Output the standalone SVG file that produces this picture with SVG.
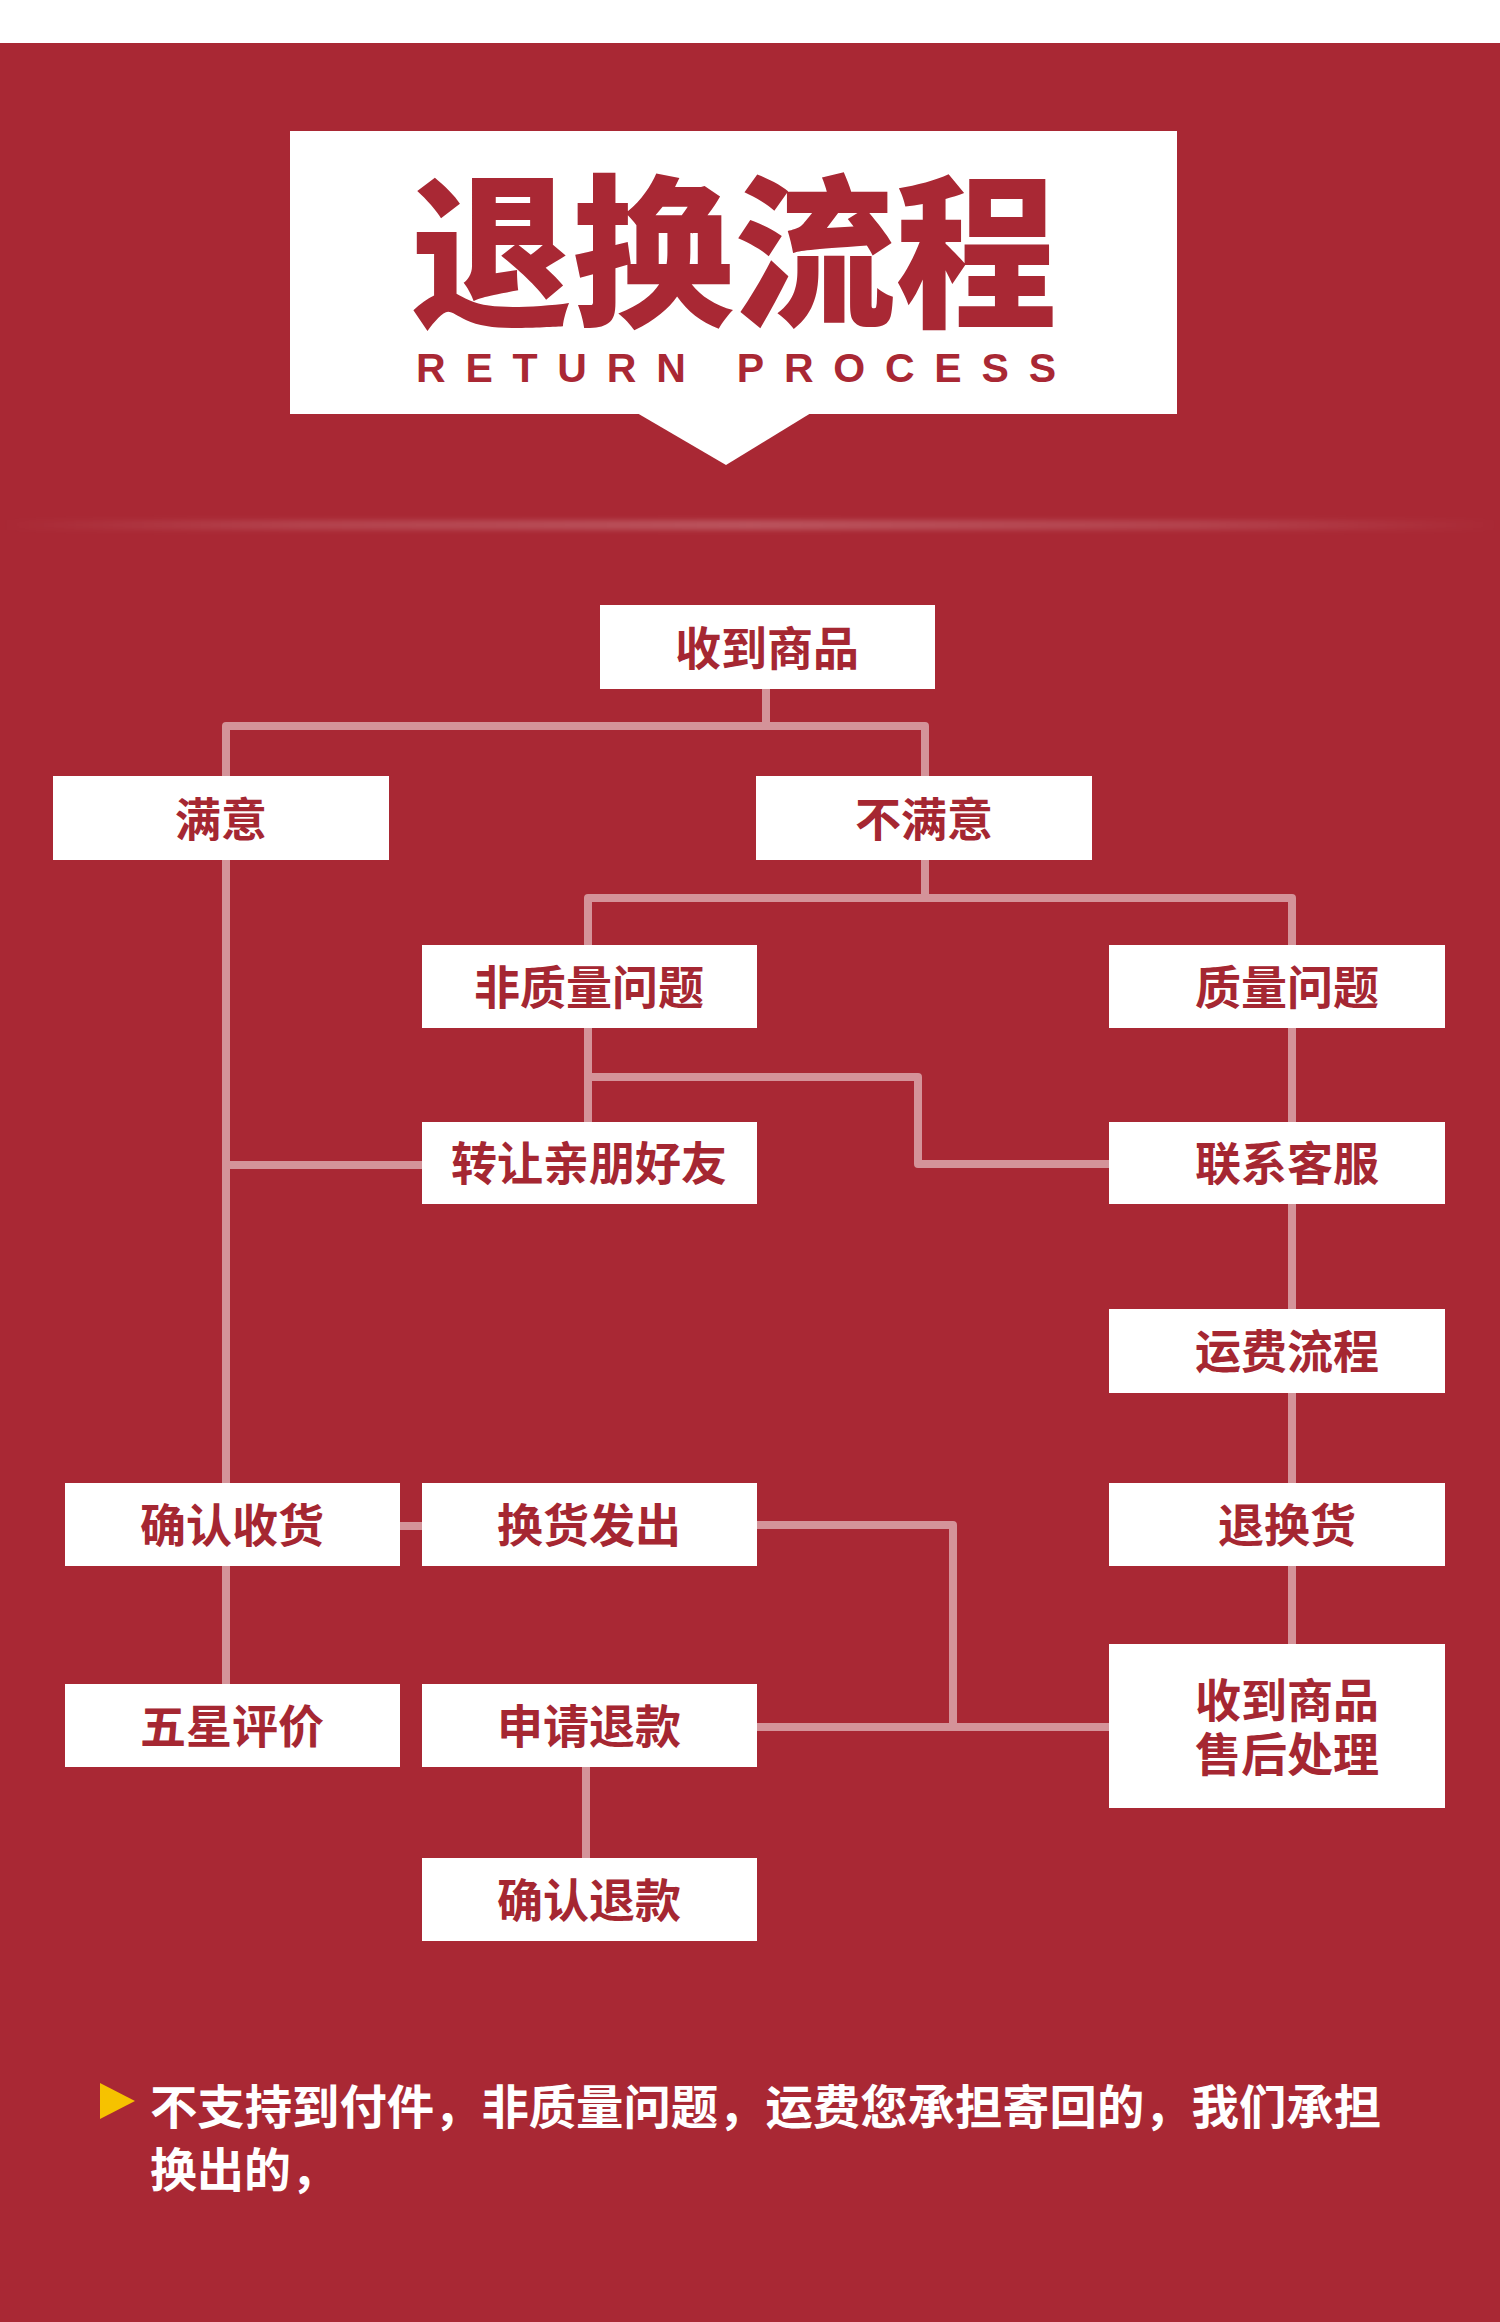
<svg xmlns="http://www.w3.org/2000/svg" width="1500" height="2322" viewBox="0 0 1500 2322">
<style>
.box{fill:#ffffff}
.lbl{font-family:"Noto Sans CJK SC","Noto Sans",sans-serif;font-weight:700;font-size:46px;fill:#a52732;text-anchor:middle}
.con{fill:none;stroke:#d49399;stroke-width:8;stroke-linejoin:round;stroke-linecap:butt}
.note{font-family:"Noto Sans CJK SC","Noto Sans",sans-serif;font-weight:700;font-size:47px;fill:#ffffff}
</style>
<defs>
<linearGradient id="sep" x1="0" y1="0" x2="1" y2="0">
<stop offset="0" stop-color="#ffffff" stop-opacity="0"/>
<stop offset="0.2" stop-color="#ffffff" stop-opacity="0.12"/>
<stop offset="0.5" stop-color="#ffffff" stop-opacity="0.2"/>
<stop offset="0.8" stop-color="#ffffff" stop-opacity="0.12"/>
<stop offset="1" stop-color="#ffffff" stop-opacity="0"/>
</linearGradient>
<filter id="blur" x="-5%" y="-200%" width="110%" height="500%"><feGaussianBlur stdDeviation="2.5"/></filter>
</defs>
<rect x="0" y="0" width="1500" height="2322" fill="#ffffff"/>
<rect x="0" y="43" width="1500" height="2279" fill="#a92834"/>
<g id="header">
<rect x="290" y="131" width="887" height="283" fill="#ffffff"/>
<polygon points="637,413 811,413 726,465" fill="#ffffff"/>
<text x="734" y="314" text-anchor="middle" textLength="646" lengthAdjust="spacingAndGlyphs" style="font-family:'Noto Sans CJK SC','Noto Sans',sans-serif;font-weight:900;font-size:165px;fill:#a92834">退换流程</text>
<text x="416" y="382" textLength="640" lengthAdjust="spacing" style="font-family:'Liberation Sans','Open Sans',sans-serif;font-weight:700;font-size:41px;fill:#a92834">RETURN PROCESS</text>
</g>
<rect x="0" y="520" width="1500" height="10" fill="url(#sep)" filter="url(#blur)"/>
<g id="connectors">
<path class="con" d="M766 689 V726"/>
<path class="con" d="M226 776 V726 H925 V776"/>
<path class="con" d="M925 860 V898"/>
<path class="con" d="M588 945 V898 H1292 V945"/>
<path class="con" d="M588 1028 V1122"/>
<path class="con" d="M588 1077 H918 V1164 H1109"/>
<path class="con" d="M226 860 V1483"/>
<path class="con" d="M226 1165 H422"/>
<path class="con" d="M1292 1028 V1644"/>
<path class="con" d="M400 1526 H422"/>
<path class="con" d="M226 1566 V1684"/>
<path class="con" d="M757 1525 H953 V1727"/>
<path class="con" d="M757 1727 H1109"/>
<path class="con" d="M586 1767 V1858"/>
</g>
<g id="n1"><rect class="box" x="600" y="605" width="335" height="84"/><text class="lbl" x="767" y="665">收到商品</text></g>
<g id="n2"><rect class="box" x="53" y="776" width="336" height="84"/><text class="lbl" x="221" y="836">满意</text></g>
<g id="n3"><rect class="box" x="756" y="776" width="336" height="84"/><text class="lbl" x="924" y="836">不满意</text></g>
<g id="n4"><rect class="box" x="422" y="945" width="335" height="83"/><text class="lbl" x="589" y="1004">非质量问题</text></g>
<g id="n5"><rect class="box" x="1109" y="945" width="336" height="83"/><text class="lbl" x="1287" y="1004">质量问题</text></g>
<g id="n6"><rect class="box" x="422" y="1122" width="335" height="82"/><text class="lbl" x="589" y="1180">转让亲朋好友</text></g>
<g id="n7"><rect class="box" x="1109" y="1122" width="336" height="82"/><text class="lbl" x="1287" y="1180">联系客服</text></g>
<g id="n8"><rect class="box" x="1109" y="1309" width="336" height="84"/><text class="lbl" x="1287" y="1368">运费流程</text></g>
<g id="n9"><rect class="box" x="65" y="1483" width="335" height="83"/><text class="lbl" x="232" y="1542">确认收货</text></g>
<g id="n10"><rect class="box" x="422" y="1483" width="335" height="83"/><text class="lbl" x="589" y="1542">换货发出</text></g>
<g id="n11"><rect class="box" x="1109" y="1483" width="336" height="83"/><text class="lbl" x="1287" y="1542">退换货</text></g>
<g id="n12"><rect class="box" x="65" y="1684" width="335" height="83"/><text class="lbl" x="232" y="1743">五星评价</text></g>
<g id="n13"><rect class="box" x="422" y="1684" width="335" height="83"/><text class="lbl" x="589" y="1743">申请退款</text></g>
<g id="n14"><rect class="box" x="1109" y="1644" width="336" height="164"/><text class="lbl" x="1287" y="1717">收到商品<tspan x="1287" dy="54">售后处理</tspan></text></g>
<g id="n15"><rect class="box" x="422" y="1858" width="335" height="83"/><text class="lbl" x="589" y="1917">确认退款</text></g>
<g id="footer">
<polygon points="100,2083 135,2101 100,2119" fill="#f6c200"/>
<text class="note" x="150" y="2124" textLength="1231" lengthAdjust="spacingAndGlyphs">不支持到付件，非质量问题，运费您承担寄回的，我们承担</text>
<text class="note" x="150" y="2187">换出的，</text>
</g>
</svg>
